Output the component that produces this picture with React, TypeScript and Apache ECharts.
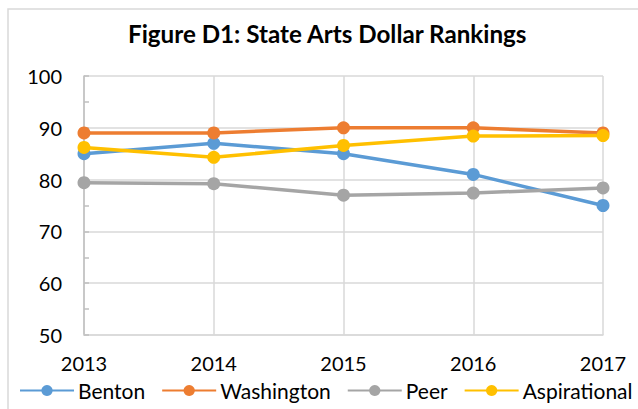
import React, { useEffect, useRef } from "react";
import * as echarts from "echarts";

const years = ["2013", "2014", "2015", "2016", "2017"];
const benton = [85, 87, 85, 81, 75];
const washington = [89, 89, 90, 90, 89];
const peer = [79.4, 79.2, 77, 77.4, 78.4];
const aspirational = [86.2, 84.3, 86.6, 88.4, 88.5];
const seriesNames = ["Benton", "Washington", "Peer", "Aspirational"];
const colors = ["#5B9BD5", "#ED7D31", "#A5A5A5", "#FFC000"];
const titleText = "Figure D1: State Arts Dollar Rankings";

export default function App() {
  const ref = useRef<HTMLDivElement>(null);
  useEffect(() => {
    document.body.style.margin = "0";
    const chart = echarts.init(ref.current!, null, { renderer: "svg" });
    const font = "Lato, 'Open Sans', sans-serif";
    const datasets = [benton, washington, peer, aspirational];
    chart.setOption({
      animation: false,
      backgroundColor: "#ffffff",
      textStyle: { fontFamily: font },
      title: {
        text: titleText,
        left: 123,
        top: 16,
        textStyle: { fontFamily: font, fontWeight: "bold", fontSize: 24.2, color: "#000" },
      },
      graphic: [
        {
          type: "rect",
          shape: { x: 8, y: 9, width: 700, height: 500 },
          style: { fill: "none", stroke: "#d9d9d9", lineWidth: 1.5 },
          silent: true,
        },
      ],
      legend: {
        top: 380,
        left: 19,
        width: 700,
        padding: 0,
        itemWidth: 54,
        itemHeight: 14,
        itemGap: 16,
        textStyle: { fontFamily: font, fontSize: 21, color: "#000", padding: [0, 0, 0, -1] },
        data: seriesNames,
      },
      grid: { left: 84, right: 35, top: 76, bottom: 74 },
      xAxis: {
        type: "category",
        data: years,
        boundaryGap: false,
        axisLine: { show: true, lineStyle: { color: "#d9d9d9", width: 1.5 } },
        axisTick: { show: false },
        axisLabel: { fontFamily: font, fontSize: 20, color: "#000", margin: 18 },
        splitLine: { show: true, lineStyle: { color: "#d9d9d9", width: 1.5 } },
      },
      yAxis: {
        type: "value",
        min: 50,
        max: 100,
        interval: 10,
        axisLine: { show: true, lineStyle: { color: "#bfbfbf", width: 1.5 } },
        axisTick: { show: true, inside: true, length: 5, lineStyle: { color: "#bfbfbf", width: 1.5 } },
        minorTick: { show: true, splitNumber: 2, length: 5, lineStyle: { color: "#bfbfbf", width: 1.5 } },
        axisLabel: { fontFamily: font, fontSize: 20, color: "#000", margin: 22 },
        splitLine: { show: true, lineStyle: { color: "#d9d9d9", width: 1.5 } },
      },
      series: seriesNames.map((name, i) => ({
        name,
        type: "line",
        data: datasets[i],
        symbol: "circle",
        symbolSize: 13,
        color: colors[i],
        lineStyle: { width: 3.5, color: colors[i] },
        itemStyle: { color: colors[i] },
      })),
    });
    return () => chart.dispose();
  }, []);
  return <div ref={ref} style={{ width: 638, height: 409 }} />;
}
